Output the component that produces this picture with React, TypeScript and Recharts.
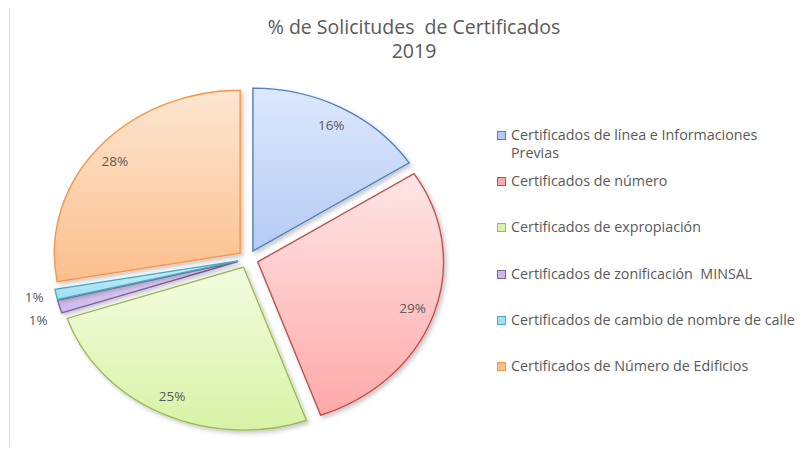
import React from 'react';
import { PieChart, Pie, Legend, Sector } from 'recharts';

const CATEGORIES = [
  'Certificados de línea e Informaciones Previas',
  'Certificados de número',
  'Certificados de expropiación',
  'Certificados de zonificación  MINSAL',
  'Certificados de cambio de nombre de calle',
  'Certificados de Número de Edificios',
];
const SHARES = [15.9, 28.6, 25.4, 1.3, 1.0, 27.8];

const STROKES = ['#4f81bd', '#c0504d', '#9bbb59', '#8064a2', '#4bacc6', '#f79646'];
const TOP_FILLS = ['#dde8fc', '#ffe6e6', '#f3fcdf', '#e3d8f5', '#c9f0fa', '#fde6d2'];
const BOTTOM_FILLS = ['#b5cbf4', '#ffa9a9', '#d8f3a6', '#cdb8ee', '#9fdff2', '#fcbf8c'];

const data = CATEGORIES.map((name, i) => ({ name, value: SHARES[i] }));

const FONT = '"Open Sans", "Liberation Sans", Arial, sans-serif';
const CX = 248;
const CY = 259;
const R = 163;
const STRETCH = 1.14;
const EXPLODE = 9;
const LABEL_NUDGE: Record<number, number> = { 3: 8, 4: -1 };

// pie slices are drawn from the label callback so each one can be pulled out and stretched
const renderSlice = (props: any) => {
  const { cx, cy, outerRadius, startAngle, endAngle, midAngle, percent, index } = props;
  const rad = (-midAngle * Math.PI) / 180;
  const dx = Math.cos(rad);
  const dy = Math.sin(rad);
  const vx = cx + dx * EXPLODE * STRETCH;
  const vy = cy + dy * EXPLODE;
  const small = percent < 0.03;
  const lr = small ? outerRadius * 1.12 : outerRadius * 0.88;
  const lx = vx + dx * lr * STRETCH;
  const ly = vy + dy * lr + (small ? LABEL_NUDGE[index] || 0 : 0);
  return (
    <g key={`slice-${index}`}>
      <g
        transform={`translate(${vx} ${vy}) scale(${STRETCH} 1) translate(${-cx} ${-cy})`}
        filter="url(#sliceShadow)"
      >
        <Sector
          cx={cx}
          cy={cy}
          innerRadius={0}
          outerRadius={outerRadius}
          startAngle={startAngle}
          endAngle={endAngle}
          fill={`url(#sliceGrad${index})`}
          stroke={STROKES[index]}
          strokeWidth={1.4}
          vectorEffect="non-scaling-stroke"
        />
      </g>
      <text
        x={lx}
        y={ly}
        textAnchor="middle"
        dominantBaseline="central"
        fill="#595959"
        fontSize={13.5}
        fontFamily={FONT}
      >
        {`${Math.round(percent * 100)}%`}
      </text>
    </g>
  );
};

const renderLegend = () => (
  <div style={{ width: 310 }}>
    {CATEGORIES.map((name, i) => (
      <div
        key={name}
        style={{ position: 'relative', height: 46.2, paddingLeft: 16, boxSizing: 'border-box' }}
      >
        <span
          style={{
            position: 'absolute',
            left: 2,
            top: 5,
            width: 7,
            height: 7,
            border: `1.5px solid ${STROKES[i]}`,
            background: BOTTOM_FILLS[i],
          }}
        />
        <div
          style={{
            fontSize: 14.3,
            lineHeight: '18px',
            color: '#595959',
            fontFamily: FONT,
            width: 292,
            whiteSpace: 'pre-wrap',
          }}
        >
          {name}
        </div>
      </div>
    ))}
  </div>
);

export default function App() {
  return (
    <div
      style={{
        position: 'relative',
        width: 808,
        height: 455,
        margin: -8,
        overflow: 'hidden',
        background: '#fff',
      }}
    >
      <div
        style={{
          position: 'absolute',
          left: 9,
          top: 4,
          width: 900,
          height: 600,
          border: '1px solid #d9d9d9',
        }}
      />
      <div
        style={{
          position: 'absolute',
          left: 0,
          top: 15,
          width: 828,
          textAlign: 'center',
          color: '#595959',
          fontSize: 19.5,
          lineHeight: '24px',
          fontFamily: FONT,
          whiteSpace: 'pre',
          zIndex: 2,
        }}
      >
        {'% de Solicitudes  de Certificados\n2019'}
      </div>
      <div style={{ position: 'absolute', left: 0, top: 0 }}>
        <PieChart width={808} height={455} margin={{ top: 0, right: 0, bottom: 0, left: 0 }}>
          <defs>
            {STROKES.map((_, i) => (
              <linearGradient key={i} id={`sliceGrad${i}`} x1="0" y1="0" x2="0" y2="1">
                <stop offset="0%" stopColor={TOP_FILLS[i]} />
                <stop offset="100%" stopColor={BOTTOM_FILLS[i]} />
              </linearGradient>
            ))}
            <filter id="sliceShadow" x="-20%" y="-20%" width="140%" height="140%">
              <feDropShadow dx="2" dy="2.5" stdDeviation="2" floodColor="#000" floodOpacity="0.22" />
            </filter>
          </defs>
          <Pie
            data={data}
            dataKey="value"
            nameKey="name"
            cx={CX}
            cy={CY}
            outerRadius={R}
            startAngle={90}
            endAngle={-270}
            fill="none"
            stroke="none"
            label={renderSlice}
            labelLine={false}
            isAnimationActive={false}
          />
          <Legend
            layout="vertical"
            align="right"
            verticalAlign="top"
            content={renderLegend}
            wrapperStyle={{ left: 495, top: 126, width: 310 }}
          />
        </PieChart>
      </div>
    </div>
  );
}
